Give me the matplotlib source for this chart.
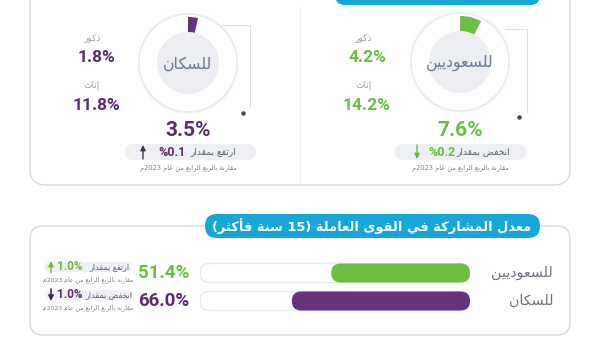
import matplotlib
matplotlib.use("Agg")
import matplotlib.pyplot as plt
from matplotlib.patches import FancyBboxPatch, Circle

# ---------------- data ----------------
donut_labels = ["للسكان", "للسعوديين"]
donut_totals = [3.5, 7.6]
male_values = [1.8, 4.2]
female_values = [11.8, 14.2]
donut_change = ["%0.1", "%0.2"]
donut_change_dir = ["up", "down"]
donut_change_text = ["ارتفع بمقدار", "انخفض بمقدار"]

bar_categories = ["للسعوديين", "للسكان"]
bar_values = [51.4, 66.0]
bar_change = ["1.0%", "1.0%"]
bar_change_dir = ["up", "down"]
bar_change_text = ["ارتفع بمقدار", "انخفض بمقدار"]

male_label = "ذكور"
female_label = "إناث"
compare_text = "مقارنة بالربع الرابع من عام 2023م"
bars_title = "معدل المشاركة في القوى العاملة (15 سنة فأكثر)"

# ---------------- colours / fonts ----------------
GREEN = "#6CBD45"
PURPLE = "#65327B"
PURPLE_TXT = "#5A2C6E"
TEAL = "#17A6D9"
GRAY_TXT = "#5F6373"
LIGHT_TXT = "#9A9DA8"
BORDER = "#D6DAE0"
AR = "DejaVu Sans"
NUM = "Roboto"

# ---------------- minimal Arabic shaping ----------------
_F = {'ء': (0xFE80, 1), 'آ': (0xFE81, 2), 'أ': (0xFE83, 2), 'ؤ': (0xFE85, 2),
      'إ': (0xFE87, 2), 'ئ': (0xFE89, 4), 'ا': (0xFE8D, 2), 'ب': (0xFE8F, 4),
      'ة': (0xFE93, 2), 'ت': (0xFE95, 4), 'ث': (0xFE99, 4), 'ج': (0xFE9D, 4),
      'ح': (0xFEA1, 4), 'خ': (0xFEA5, 4), 'د': (0xFEA9, 2), 'ذ': (0xFEAB, 2),
      'ر': (0xFEAD, 2), 'ز': (0xFEAF, 2), 'س': (0xFEB1, 4), 'ش': (0xFEB5, 4),
      'ص': (0xFEB9, 4), 'ض': (0xFEBD, 4), 'ط': (0xFEC1, 4), 'ظ': (0xFEC5, 4),
      'ع': (0xFEC9, 4), 'غ': (0xFECD, 4), 'ف': (0xFED1, 4), 'ق': (0xFED5, 4),
      'ك': (0xFED9, 4), 'ل': (0xFEDD, 4), 'م': (0xFEE1, 4), 'ن': (0xFEE5, 4),
      'ه': (0xFEE9, 4), 'و': (0xFEED, 2), 'ى': (0xFEEF, 2), 'ي': (0xFEF1, 4)}
_LA = {'آ': 0xFEF5, 'أ': 0xFEF7, 'إ': 0xFEF9, 'ا': 0xFEFB}


def _shape(s):
    out, prev, i = [], None, 0
    dual = lambda c: c in _F and _F[c][1] == 4
    while i < len(s):
        c = s[i]
        if c not in _F:
            out.append(c); prev = None; i += 1; continue
        pj = prev is not None and dual(prev)
        if c == 'ل' and i + 1 < len(s) and s[i + 1] in _LA:
            out.append(chr(_LA[s[i + 1]] + (1 if pj else 0)))
            prev = 'ا'; i += 2; continue
        nxt = s[i + 1] if i + 1 < len(s) else None
        nj = dual(c) and nxt is not None and nxt in _F
        start, k = _F[c]
        if k == 1:
            f = 0
        elif k == 2:
            f = 1 if pj else 0
        else:
            f = 3 if (pj and nj) else 1 if pj else 2 if nj else 0
        out.append(chr(start + f)); prev = c; i += 1
    return ''.join(out)


def ar(s):
    t = _shape(s)
    runs = []
    for ch in t:
        typ = 'L' if ch in '0123456789' else 'R'
        if runs and runs[-1][0] == typ:
            runs[-1][1] += ch
        else:
            runs.append([typ, ch])
    mir = {'(': ')', ')': '('}
    parts = []
    for typ, txt in reversed(runs):
        if typ == 'L':
            parts.append(txt)
        else:
            parts.append(''.join(mir.get(c, c) for c in reversed(txt)))
    return ''.join(parts)


# ---------------- figure ----------------
W, H = 600, 338
fig = plt.figure(figsize=(6.0, 3.38), dpi=100)
fig.patch.set_facecolor("white")
ax = fig.add_axes([0, 0, 1, 1])
ax.set_xlim(0, W)
ax.set_ylim(H, 0)
ax.axis("off")


def rbox(x0, y0, x1, y1, r, fc, ec, lw=1.0, z=1):
    p = FancyBboxPatch((x0 + r, y0 + r), (x1 - x0) - 2 * r, (y1 - y0) - 2 * r,
                       boxstyle=f"round,pad={r}", fc=fc, ec=ec, lw=lw, zorder=z)
    ax.add_patch(p)
    return p


def arrow(x, ytail, yhead, color, lw=1.0):
    ax.annotate("", xy=(x, yhead), xytext=(x, ytail),
                arrowprops=dict(arrowstyle="-|>,head_length=0.3,head_width=0.15",
                                color=color, lw=lw, shrinkA=0, shrinkB=0), zorder=6)


# top panel
rbox(30, -30, 570, 185, 16, "white", BORDER, 1.0, 1)
rbox(335, -30, 540, 5, 10, TEAL, "none", 0, 2)
ax.plot([300, 300], [8, 183], color="#F0F1F4", lw=0.8, zorder=2)

# bottom panel
rbox(30, 226, 570, 335, 13, "white", BORDER, 1.0, 1)

# ---------------- donuts ----------------
centers = [(188, 63), (460, 62)]
colors = [PURPLE, GREEN]
num_colors = [PURPLE_TXT, GREEN]
arrow_top = ["#3E3550", GREEN]
R_OUT, R_IN = 46, 31
side_x = [96, 367]
pill_x = [(125, 256), (395, 526)]
bracket = [(222, 25, 250, 107, 243, 113), (505, 29, 527, 112, 519, 117)]

for k in range(2):
    cx, cy = centers[k]
    for rr, a in [(52, 0.05), (50.5, 0.08)]:
        ax.add_patch(Circle((cx, cy), rr, fc="#D9E6F2", ec="none", alpha=a, zorder=2))
    ax.add_patch(Circle((cx, cy), 49, fc="white", ec="#E4ECF5", lw=1.2, zorder=3))
    ax.add_patch(Circle((cx, cy), R_IN, fc="#ECEEF2", ec="none", zorder=3))
    pax = fig.add_axes([(cx - R_OUT) / W, 1 - (cy + R_OUT) / H, 2 * R_OUT / W, 2 * R_OUT / H])
    pax.pie([donut_totals[k], 100 - donut_totals[k]], colors=[colors[k], (0, 0, 0, 0)],
            startangle=90, counterclock=False, radius=1,
            wedgeprops=dict(width=(R_OUT - R_IN) / R_OUT, linewidth=0))
    pax.set_xlim(-1, 1); pax.set_ylim(-1, 1)
    pax.set_facecolor("none")
    pax.axis("off")
    ax.text(cx, cy + 1, ar(donut_labels[k]), family=AR, fontsize=11.3, color="#6E7B96",
            ha="center", va="center", zorder=5)
    x0, y0, x1, y1, dx, dy = bracket[k]
    ax.plot([x0, x1, x1], [y0, y0, y1], color="#DADDE3", lw=0.8, zorder=2)
    ax.plot([dx], [dy], marker="o", ms=2.2, color="#444652", zorder=3)
    sx = side_x[k]
    ax.text(sx - 4, 39, ar(male_label), family=AR, fontsize=6.5, color=LIGHT_TXT,
            ha="center", va="center", zorder=5)
    ax.text(sx, 58, f"{male_values[k]:.1f}%", family=NUM, fontweight="bold", fontsize=12.5,
            color=num_colors[k], ha="center", va="center", zorder=5)
    ax.text(sx - 4, 85, ar(female_label), family=AR, fontsize=6.5, color=LIGHT_TXT,
            ha="center", va="center", zorder=5)
    ax.text(sx, 105, f"{female_values[k]:.1f}%", family=NUM, fontweight="bold", fontsize=12.5,
            color=num_colors[k], ha="center", va="center", zorder=5)
    ax.text(cx, 130, f"{donut_totals[k]:.1f}%", family=NUM, fontweight="bold", fontsize=15,
            color=num_colors[k], ha="center", va="center", zorder=5)
    px0, px1 = pill_x[k]
    rbox(px0, 144, px1, 160, 8, "#EDEFF3", "none", 0, 3)
    if donut_change_dir[k] == "up":
        arrow(px0 + 18, 159, 145, arrow_top[k])
    else:
        arrow(px0 + 22, 145, 159, arrow_top[k])
    ax.text(px0 + 47, 152, donut_change[k], family=NUM, fontweight="bold", fontsize=9,
            color=num_colors[k], ha="center", va="center", zorder=5)
    ax.text(px0 + 88, 152, ar(donut_change_text[k]), family=AR, fontsize=6.6,
            color=GRAY_TXT, ha="center", va="center", zorder=5)
    ax.text(cx, 169, ar(compare_text), family=AR, fontsize=4.8, color="#7D818E",
            ha="center", va="center", zorder=5)

# ---------------- bottom bars ----------------
rbox(205, 214, 540, 238, 12, TEAL, "none", 0, 3)
ax.text(372, 226.5, ar(bars_title), family=AR, fontweight="bold", fontsize=9.4,
        color="white", ha="center", va="center", zorder=4)

BX0, BX1 = 200, 470
ROW = 28
bax = fig.add_axes([BX0 / W, 1 - (273 + 1.5 * ROW) / H, (BX1 - BX0) / W, 2 * ROW / H])
bax.set_xlim(100, 0)
bax.set_ylim(1.5, -0.5)
bax.axis("off")
bax.set_facecolor("none")
px_per_x = (BX1 - BX0) / 100.0
m_aspect = px_per_x / ROW
bar_h = 19 / ROW
r_sq = bar_h / m_aspect / 2
bar_colors = [GREEN, PURPLE]
ypos = list(range(len(bar_categories)))

tracks = bax.barh(ypos, [100] * len(ypos), height=bar_h)
for t in tracks:
    t.set_visible(False)
    bax.add_patch(FancyBboxPatch((t.get_x(), t.get_y()), t.get_width(), t.get_height(),
                                 boxstyle=f"round,pad=0,rounding_size={r_sq}",
                                 mutation_aspect=m_aspect, fc="white", ec="#E6EBF2",
                                 lw=1.0, zorder=2))
bars = bax.barh(ypos, bar_values, height=bar_h)
for b, c in zip(bars, bar_colors):
    b.set_visible(False)
    bax.add_patch(FancyBboxPatch((b.get_x(), b.get_y()), b.get_width(), b.get_height(),
                                 boxstyle=f"round,pad=0,rounding_size={r_sq}",
                                 mutation_aspect=m_aspect, fc=c, ec="none", zorder=3))

val_colors = [GREEN, PURPLE_TXT]
arrow_colors = [GREEN, "#3E2A55"]
for i, cat in enumerate(bar_categories):
    yc = 273 + i * ROW
    ax.text(553, yc, ar(cat), family=AR, fontsize=10.3, color="#6E7180",
            ha="right", va="center", zorder=5)
    ax.text(189, yc + 0.5, f"{bar_values[i]:.1f}%", family=NUM, fontweight="bold",
            fontsize=13.5, color=val_colors[i], ha="right", va="center", zorder=5)
    cy_ = yc - 6
    rbox(45, cy_ - 5, 132, cy_ + 5, 5, "#F0F1F4", "none", 0, 3)
    if bar_change_dir[i] == "up":
        arrow(51, cy_ + 6, cy_ - 6, arrow_colors[i], 1.0)
    else:
        arrow(51, cy_ - 6, cy_ + 6, arrow_colors[i], 1.2)
    ax.text(70, cy_, bar_change[i], family=NUM, fontweight="bold", fontsize=8.5,
            color=val_colors[i], ha="center", va="center", zorder=5)
    ax.text(109, cy_, ar(bar_change_text[i]), family=AR, fontsize=5.8,
            color=GRAY_TXT, ha="center", va="center", zorder=5)
    ax.text(133, cy_ + 13, ar(compare_text), family=AR, fontsize=4.4, color="#7D818E",
            ha="right", va="center", zorder=5)

fig.savefig("out.png", dpi=100, facecolor="white")
